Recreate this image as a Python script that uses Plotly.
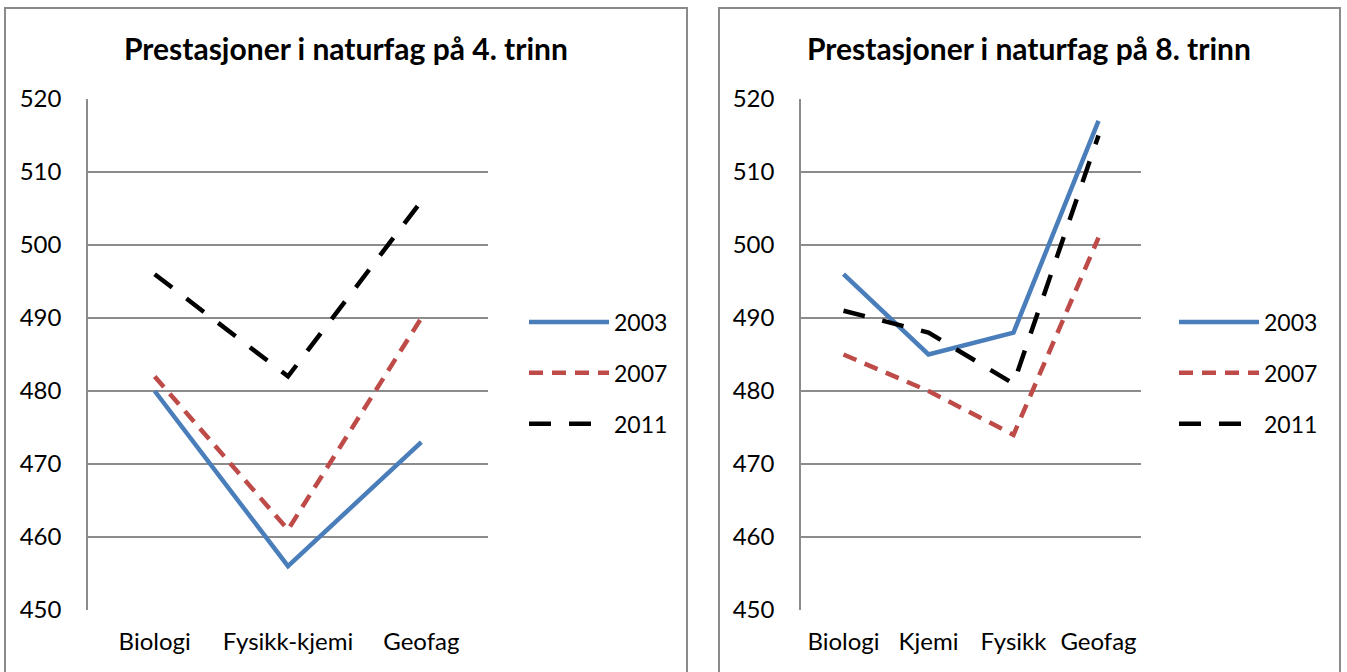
import plotly.graph_objects as go

# Science achievement by content domain, grade 4 and grade 8
years = ["2003", "2007", "2011"]

cats_4 = ["Biologi", "Fysikk-kjemi", "Geofag"]
g4_2003 = [480, 456, 473]
g4_2007 = [482, 461, 490]
g4_2011 = [496, 482, 506]

cats_8 = ["Biologi", "Kjemi", "Fysikk", "Geofag"]
g8_2003 = [496, 485, 488, 517]
g8_2007 = [485, 480, 474, 501]
g8_2011 = [491, 488, 481, 515]

y_ticks = [450, 460, 470, 480, 490, 500, 510, 520]

W, H = 1347, 672
FONT = "Lato"
GRID = "#8c8c8c"

styles = {
    "2003": dict(color="#4A7EBB", width=4.5, dash="solid"),
    "2007": dict(color="#BE4B48", width=4.5, dash="14px,9px"),
    "2011": dict(color="#000000", width=4.5, dash="22px,18px"),
}


def px_x(x):
    return x / W


def px_y(y):
    return 1 - y / H


fig = go.Figure()

for yr, vals in zip(years, [g4_2003, g4_2007, g4_2011]):
    fig.add_trace(go.Scatter(
        x=cats_4, y=vals, mode="lines", name=yr, line=styles[yr],
        xaxis="x", yaxis="y", legend="legend", legendgroup="a" + yr,
    ))

for yr, vals in zip(years, [g8_2003, g8_2007, g8_2011]):
    fig.add_trace(go.Scatter(
        x=cats_8, y=vals, mode="lines", name=yr, line=styles[yr],
        xaxis="x2", yaxis="y2", legend="legend2", legendgroup="b" + yr,
    ))

xcommon = dict(
    type="category", showgrid=False, zeroline=False, showline=False,
    ticks="", tickfont=dict(family=FONT, size=24, color="#000"),
    ticklabelstandoff=15, fixedrange=True, automargin=False,
)
ycommon = dict(
    range=[450, 520], tickvals=y_ticks, showgrid=True, gridcolor=GRID,
    gridwidth=1.5, zeroline=False, showline=True, linecolor=GRID,
    linewidth=1.5, ticks="", tickfont=dict(family=FONT, size=24, color="#000"),
    ticklabelstandoff=20, fixedrange=True, automargin=False,
)

ydom = [px_y(610), px_y(99)]

fig.update_layout(
    width=W, height=H,
    margin=dict(l=0, r=0, t=0, b=0),
    paper_bgcolor="white", plot_bgcolor="white",
    font=dict(family=FONT, size=22, color="#000"),
    xaxis=dict(domain=[px_x(88), px_x(488)], range=[-0.5, 2.5],
               anchor="y", **xcommon),
    yaxis=dict(domain=ydom, anchor="x", **ycommon),
    xaxis2=dict(domain=[px_x(801), px_x(1141)], range=[-0.5, 3.5],
                anchor="y2", **xcommon),
    yaxis2=dict(domain=ydom, anchor="x2", **ycommon),
    legend=dict(
        x=px_x(524), y=px_y(373), xanchor="left", yanchor="middle",
        traceorder="grouped", tracegroupgap=18, itemwidth=80,
        font=dict(family=FONT, size=23), bgcolor="rgba(0,0,0,0)",
    ),
    legend2=dict(
        x=px_x(1174), y=px_y(373), xanchor="left", yanchor="middle",
        traceorder="grouped", tracegroupgap=18, itemwidth=80,
        font=dict(family=FONT, size=23), bgcolor="rgba(0,0,0,0)",
    ),
    showlegend=True,
)

titles = [
    ("Prestasjoner i naturfag på 4. trinn", 346),
    ("Prestasjoner i naturfag på 8. trinn", 1029),
]
for text, cx in titles:
    fig.add_annotation(
        text="<b>" + text + "</b>", x=px_x(cx), y=px_y(48),
        xref="paper", yref="paper", xanchor="center", yanchor="middle",
        showarrow=False, font=dict(family=FONT, size=30, color="#000"),
    )

# Panel frames
for x0, x1 in [(5, 687), (719, 1340)]:
    fig.add_shape(
        type="rect", xref="paper", yref="paper",
        x0=px_x(x0), x1=px_x(x1), y0=-0.05, y1=px_y(8),
        line=dict(color="#8a8a8a", width=2), fillcolor="rgba(0,0,0,0)",
        layer="below",
    )

fig.write_html("out.html")
